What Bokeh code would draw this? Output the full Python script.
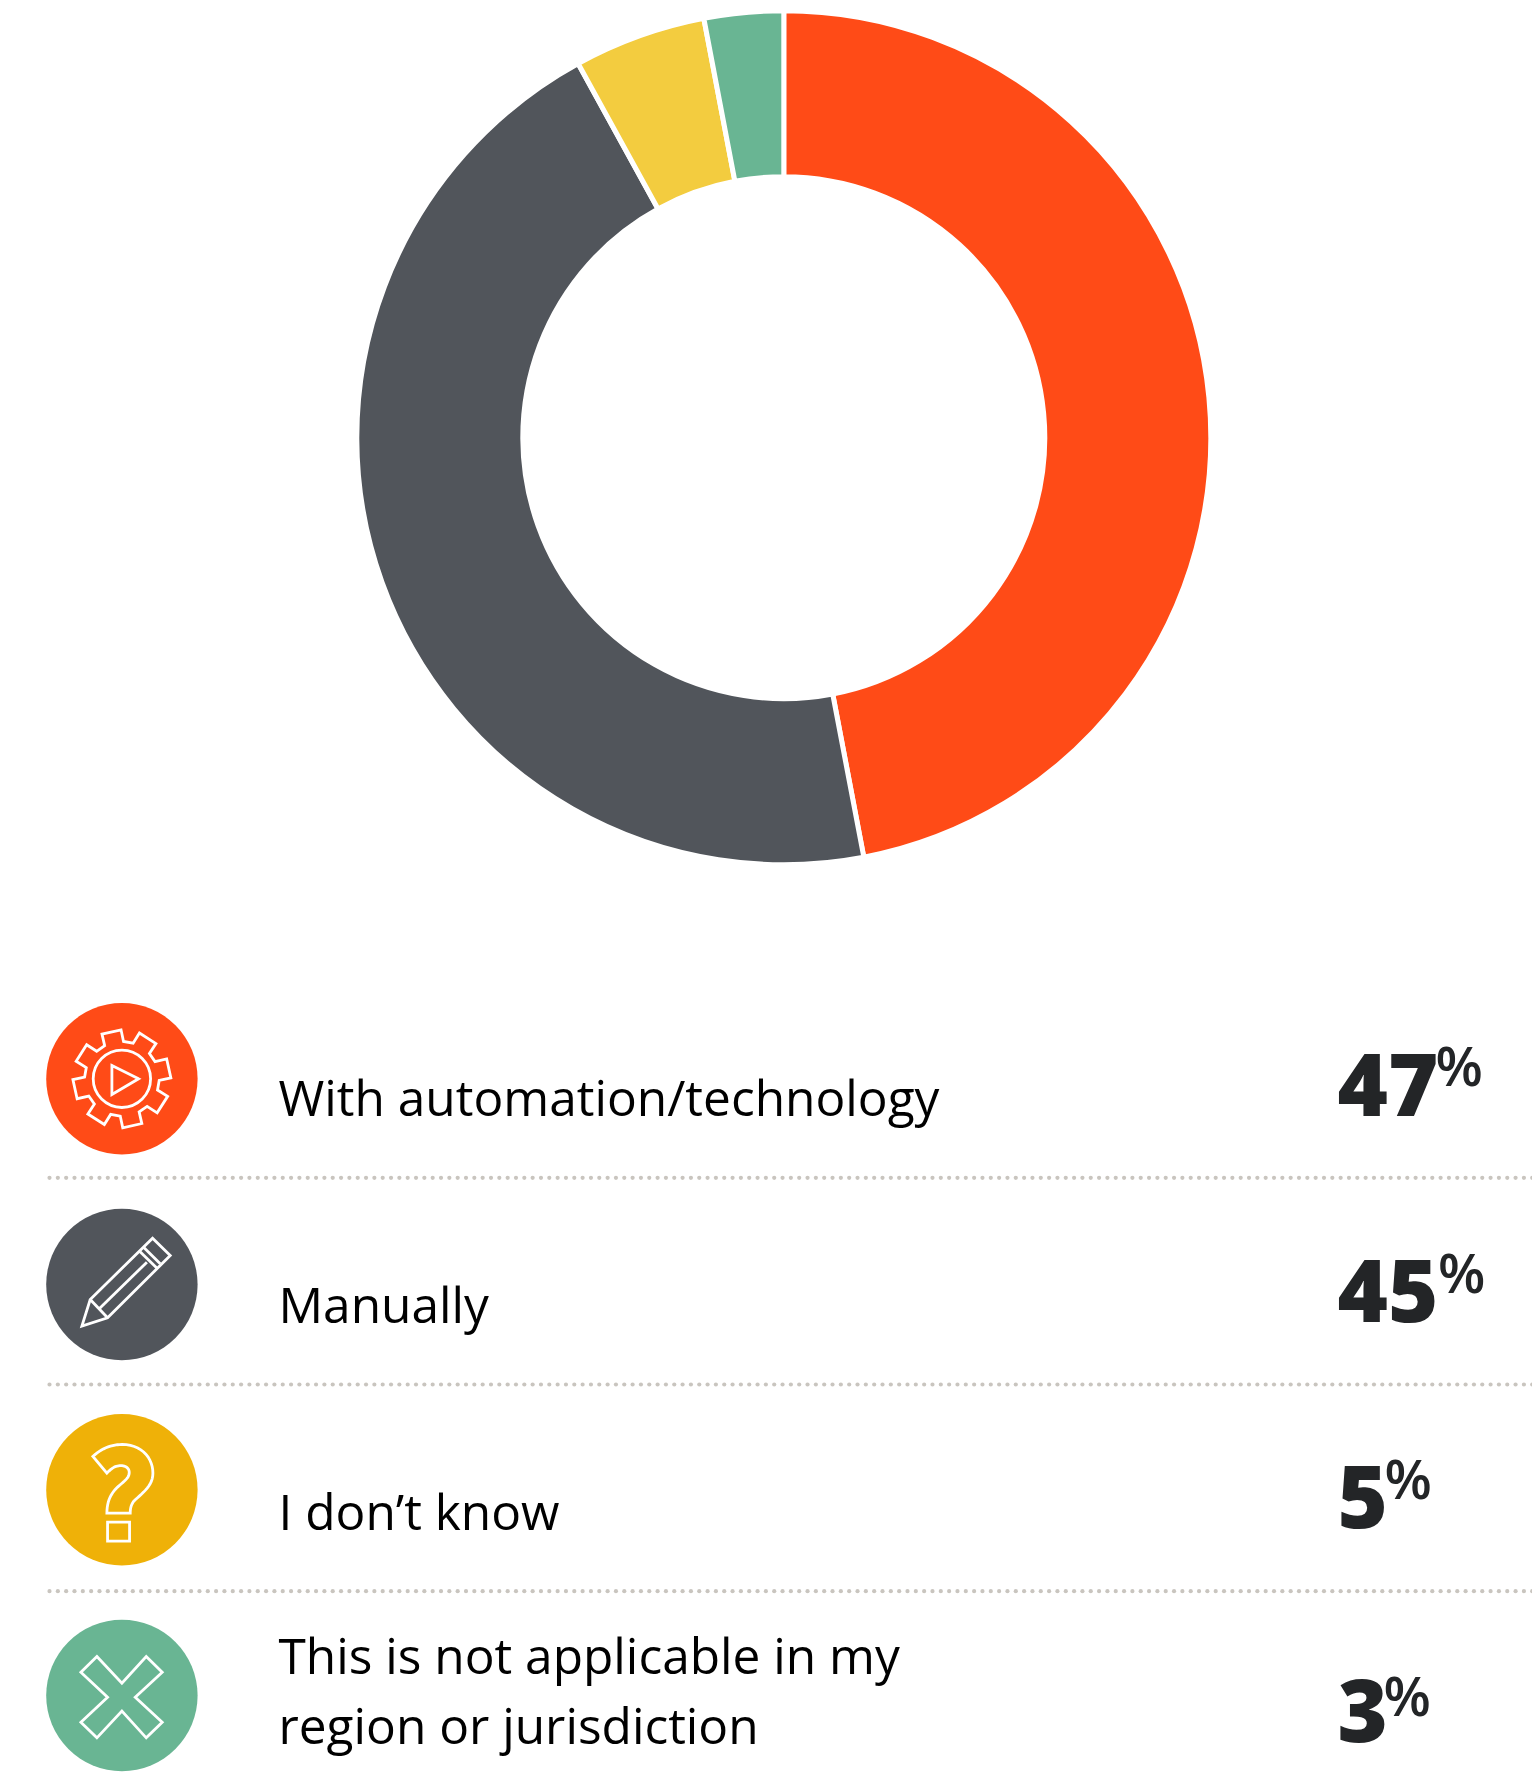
import numpy as np
from bokeh.plotting import figure
from bokeh.models import Range1d
from bokeh.core.properties import value
from bokeh.embed import file_html
from bokeh.resources import INLINE

categories = ["With automation/technology", "Manually", "I don\u2019t know", "This is not applicable in my\nregion or jurisdiction"]
values = [47, 45, 5, 3]
value_labels = ["47", "45", "5", "3"]
wedge_colors = ["#FF4B17", "#51555B", "#F3CC3F", "#69B593"]
icon_colors = ["#FF4B17", "#51555B", "#EFB108", "#69B593"]

W, H = 1532, 1773
p = figure(width=W, height=H, output_backend="svg", toolbar_location=None,
           x_range=Range1d(0, W), y_range=Range1d(H, 0),
           x_axis_location=None, y_axis_location=None, min_border=0,
           outline_line_color=None, background_fill_color="white", border_fill_color="white")
p.grid.visible = False

# donut
CX, CY, R_OUT, R_IN, GAP = 783.3, 437.2, 424.5, 263.5, 5
cum = np.concatenate([[0], np.cumsum(values)]) / sum(values)
starts = np.pi / 2 - 2 * np.pi * cum[:-1]
ends = np.pi / 2 - 2 * np.pi * cum[1:]
p.annular_wedge(x=[CX] * 4, y=[CY] * 4, inner_radius=R_IN - GAP / 2, outer_radius=R_OUT + GAP / 2,
                start_angle=starts, end_angle=ends, direction="clock",
                fill_color=wedge_colors, line_color="white", line_width=GAP)

# rows
ICON_X, ICON_R = 121.4, 75.7
icon_y = [1078.3, 1284.0, 1489.3, 1695.0]
p.circle(x=[ICON_X] * 4, y=icon_y, radius=ICON_R, fill_color=icon_colors, line_color=None)

# dotted separators
for yy in [1177.3, 1384, 1590.7]:
    xs = np.arange(49, 1532, 8.33)
    p.scatter(x=xs, y=[yy] * len(xs), size=4.2, marker="circle", fill_color="#C9C5BF", line_color=None)

STROKE = 2.8


def lines(pts, cx, cy, close=False):
    a = np.array(pts, dtype=float) / 3
    if close:
        a = np.vstack([a, a[:2]])
    p.line(a[:, 0] + cx, a[:, 1] + cy, line_color="white", line_width=STROKE, line_join="miter")


def bez(*segs):
    out = []
    for (a, b, c, d) in segs:
        for t in np.linspace(0, 1, 14):
            a_, b_, c_, d_ = map(np.array, (a, b, c, d))
            out.append((1-t)**3*a_ + 3*(1-t)**2*t*b_ + 3*(1-t)*t**2*c_ + t**3*d_)
    return out


# gear icon
gy = icon_y[0]
gear = []
for k in range(8):
    th = np.radians(-12.5 + 45 * k)
    for da, r in [(-15, 112), (-11.5, 147), (11.5, 147), (15, 112)]:
        a = th + np.radians(da)
        gear.append((r * np.sin(a), -r * np.cos(a)))
lines(gear, ICON_X, gy, close=True)
p.circle(x=[ICON_X], y=[gy], radius=28.7, fill_color=None, line_color="white", line_width=STROKE)
lines([(-30, -40), (50, 0), (-30, 47)], ICON_X, gy, close=True)

# pencil icon
py = icon_y[1]
lines([(-120, 125), (-95, 45), (92, -139), (145, -87), (-43, 100)], ICON_X, py, close=True)
lines([(-95, 45), (-43, 100)], ICON_X, py)
lines([(-68, 73), (75, -67)], ICON_X, py)
lines([(53, -100), (107, -47)], ICON_X, py)
lines([(65, -112), (115, -62)], ICON_X, py)

# question icon
qy = icon_y[2]
q = bez(((-87, -100), (-60, -125), (-30, -136), (0, -136)),
        ((0, -136), (60, -136), (93, -95), (93, -50)),
        ((93, -50), (93, -10), (60, 10), (35, 35)),
        ((35, 35), (28, 45), (25, 55), (25, 70)))
q += [(25, 70), (-45, 70)]
q += bez(((-45, 70), (-45, 30), (-30, 5), (-5, -15)),
         ((-5, -15), (15, -32), (22, -40), (22, -52)),
         ((22, -52), (22, -68), (5, -75), (-10, -72)),
         ((-10, -72), (-25, -70), (-35, -60), (-45, -50)))
lines(q, ICON_X, qy, close=True)
lines([(-43, 97), (23, 97), (23, 154), (-43, 154)], ICON_X, qy, close=True)

# cross icon
xy = icon_y[3]
lines([(0, -37), (-75, -117), (-123, -70), (-43, 5), (-123, 80), (-75, 127), (0, 47),
       (73, 127), (121, 80), (40, 5), (121, -70), (73, -117)], ICON_X, xy, close=True)

# text: Bokeh's SVG text sits about 0.38 em below the requested alphabetic baseline
LABEL_PX, NUM_PX, PCT_PX = 49.6, 86, 55
label_x, label_y, label_t = [], [], []
for t, base in zip(categories, [[1115.5], [1322.5], [1529], [1673.5, 1743]]):
    for line, b in zip(t.split("\n"), base):
        label_t.append(line); label_y.append(b - 0.38 * LABEL_PX); label_x.append(278)
p.text(x=label_x, y=label_y, text=label_t, text_font=value("Open Sans"), text_font_size=f"{LABEL_PX}px",
       text_color="#000000", text_baseline="alphabetic", text_align="left")

p.text(x=[1337] * 4, y=[b - 0.38 * NUM_PX for b in [1116.5, 1322.5, 1529, 1743]], text=value_labels,
       text_font=value("Open Sans ExtraBold"),
       text_font_size=f"{NUM_PX}px", text_color="#232527",
       text_baseline="alphabetic", text_align="left")
p.text(x=[1435, 1437.5, 1384, 1383], y=[b - 0.38 * PCT_PX for b in [1085, 1291.5, 1498, 1715]], text=["%"] * 4,
       text_font=value("Open Sans SemiBold"),
       text_font_size=f"{PCT_PX}px", text_color="#232527", text_baseline="alphabetic", text_align="left")

open("out.html", "w").write(file_html(p, INLINE))
